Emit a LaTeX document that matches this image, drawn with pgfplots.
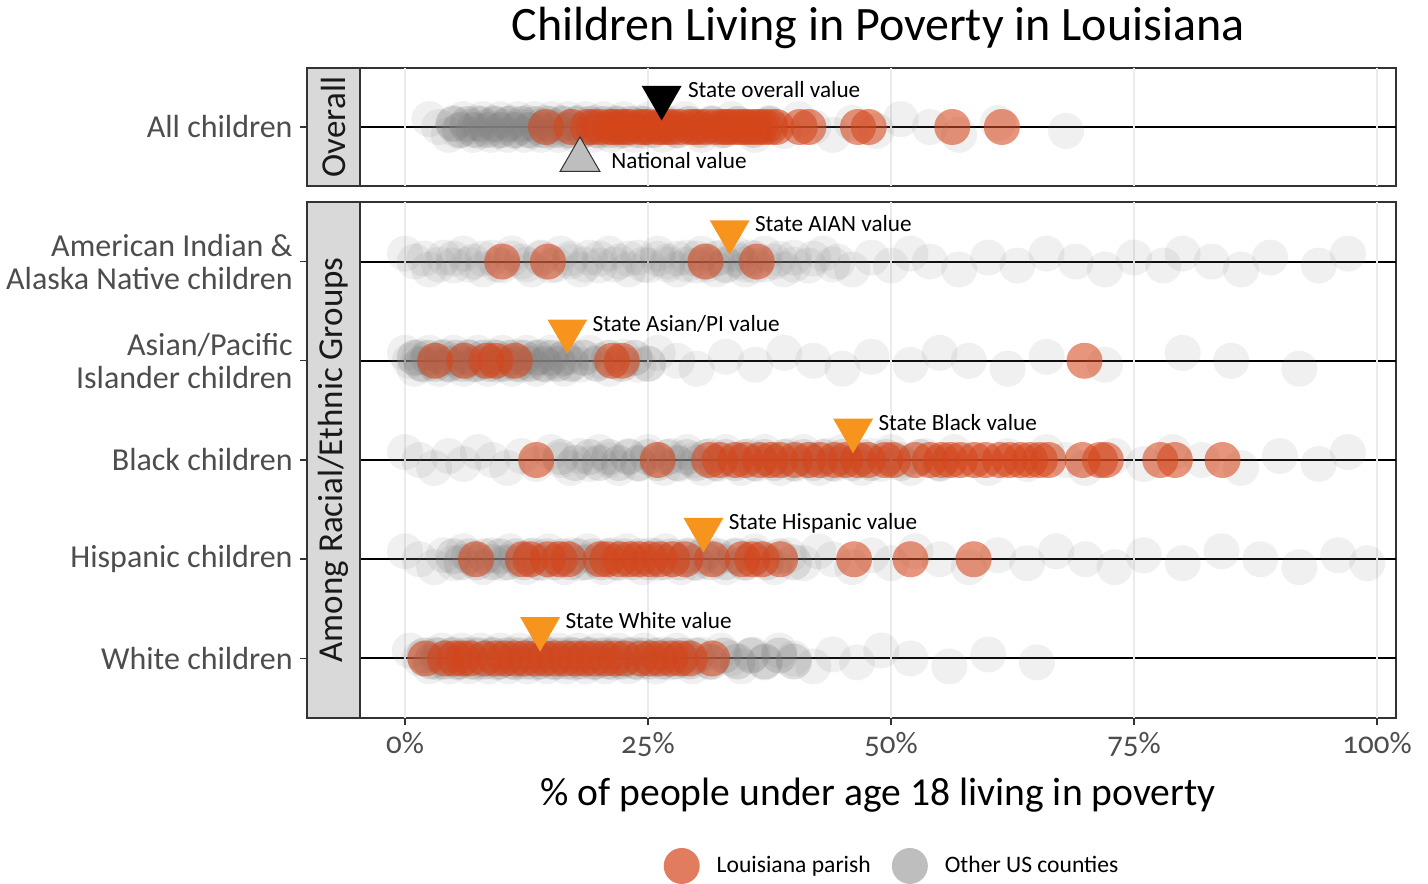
\documentclass[border=0pt]{standalone}
\usepackage{pgfplots}
\pgfplotsset{compat=1.18}
\usepackage{fontspec}
\setmainfont{Carlito}
\newfontfamily\tickfont{Carlito}[Numbers=OldStyle]
\definecolor{laorange}{HTML}{D5451A}
\definecolor{stateor}{HTML}{F7941D}
\definecolor{cloud}{HTML}{808080}
\definecolor{gridc}{HTML}{EBEBEB}
\definecolor{framec}{HTML}{333333}
\definecolor{stripc}{HTML}{D9D9D9}
\definecolor{tickc}{HTML}{4D4D4D}
\definecolor{natc}{HTML}{BEBEBE}
\pgfplotsset{
 panel/.style={scale only axis, width=518pt, xmin=-4.63, xmax=101.95,
   axis line style={framec, line width=0.7pt}, ytick=\empty},
 gray pts/.style={only marks, mark=*, mark size=9pt, color=cloud, mark options={fill=cloud, fill opacity=0.12, draw opacity=0}, forget plot},
 core pts/.style={only marks, mark=*, mark size=9pt, color=cloud, mark options={fill=cloud, fill opacity=0.2, draw opacity=0}, forget plot},
 dense pts/.style={only marks, mark=*, mark size=9pt, color=cloud, mark options={fill=cloud, fill opacity=0.26, draw opacity=0}, forget plot},
 or pts/.style={only marks, mark=*, mark size=9pt, color=laorange, mark options={fill=laorange, fill opacity=0.57, draw opacity=0}, forget plot},
 hl/.style={black, line width=1pt, forget plot},
 vg/.style={gridc, line width=1pt, forget plot},
 st tri/.style={only marks, mark=triangle*, mark size=11.5pt, color=stateor, mark options={rotate=180, fill=stateor, draw opacity=0}, forget plot},
}
\tikzset{lab/.style={anchor=base west, inner sep=0pt, font=\fontsize{11.6}{13}\selectfont, text=black}}
\begin{document}
\begin{tikzpicture}
\path[use as bounding box] (0,0) rectangle (714pt,441.5pt);
% ---------------- top panel ----------------
\begin{axis}[panel, at={(180pt,348.5pt)}, anchor=south west, height=59pt,
  ymin=0.4, ymax=1.6, xtick=\empty]
\addplot[hl] coordinates {(-4.63,1) (101.95,1)};
\addplot[vg] coordinates {(0,0.4) (0,1.6)};
\addplot[vg] coordinates {(25,0.4) (25,1.6)};
\addplot[vg] coordinates {(50,0.4) (50,1.6)};
\addplot[vg] coordinates {(75,0.4) (75,1.6)};
\addplot[vg] coordinates {(100,0.4) (100,1.6)};
\addplot[gray pts] coordinates {
(2.5,1.08) (3.5,1) (4.5,0.92) (5.0,1.04) (5.5,0.96)
(6.0,1.08) (6.5,1) (7.0,0.92) (7.3,1.04) (7.7,0.96)
(8.0,1.08) (8.4,1) (8.8,0.92) (9.1,1.04) (9.5,0.96)
(9.8,1.08) (10.2,1) (10.5,0.92) (10.9,1.04) (11.2,0.96)
(11.6,1.08) (11.9,1) (12.3,0.92) (12.6,1.04) (13.0,0.96)
(13.3,1.08) (13.7,1) (14.0,0.92) (14.4,1.04) (14.7,0.96)
(15.1,1.08) (15.4,1) (15.8,0.92) (16.1,1.04) (16.5,0.96)
(16.8,1.08) (17.2,1) (17.5,0.92) (17.9,1.04) (18.2,0.96)
(18.6,1.08) (18.9,1) (19.3,0.92) (19.6,1.04) (20.0,0.96)
(20.4,1.08) (20.8,1) (21.2,0.92) (21.6,1.04) (22.0,0.96)
(22.5,1.08) (23.0,1) (23.5,0.92) (24.0,1.04) (24.6,0.96)
(25.2,1.08) (25.8,1) (26.5,0.92) (27.2,1.04) (28.0,0.96)
(28.8,1.08) (29.6,1) (30.5,0.92) (31.5,1.04) (32.5,0.96)
(33.6,1.08) (34.8,1) (36.0,0.92) (37.5,1.04) (39.0,0.96)
(40.5,1.08) (42.0,1) (44.0,0.92) (46.0,1.04) (48.5,0.96)
(51.0,1.08) (54.0,1) (57.0,0.92) (61.0,1.04) (68.0,0.96)};
\addplot[dense pts] coordinates {
(5.0,1.03) (5.7,0.97) (6.4,1.03) (7.1,0.97) (7.8,1.03) (8.5,0.97) (9.2,1.03) (9.9,0.97)
(10.6,1.03) (11.3,0.97) (12.0,1.03) (12.7,0.97) (13.4,1.03) (14.1,0.97) (14.8,1.03)
(15.5,0.97) (16.2,1.03) (16.9,0.97) (17.6,1.03) (18.3,0.97) (19.0,1.03) (19.7,0.97)
(20.4,1.03) (21.1,0.97) (21.8,1.03) (22.5,0.97) (23.2,1.03) (23.9,0.97) (24.6,1.03)
(25.6,0.97) (26.8,1.03) (28.0,0.97) (29.2,1.03) (30.4,0.97) (31.6,1.03) (32.8,0.97)
(34.2,1.03) (35.8,0.97) (37.5,1.03)};
\addplot[or pts] coordinates {
(14.5,1) (17.1,1) (18.8,1) (19.4,1) (20.1,1) (21.1,1) (21.5,1) (22.1,1) (22.6,1)
(23.1,1) (24.1,1) (24.6,1) (25.0,1) (26.0,1) (26.5,1) (27.0,1) (27.5,1) (28.3,1)
(29.3,1) (29.8,1) (30.3,1) (31.0,1) (31.9,1) (32.6,1) (33.0,1) (33.4,1) (34.0,1)
(34.5,1) (35.0,1) (35.5,1) (36.0,1) (36.5,1) (37.0,1) (37.6,1) (38.2,1) (40.6,1)
(41.5,1) (46.6,1) (47.7,1) (56.3,1) (61.4,1)};
\addplot[only marks, mark=triangle*, mark size=11.5pt, color=black, mark options={rotate=180, fill=black, draw opacity=0}, forget plot] coordinates {(26.4,1.3)};
\addplot[only marks, mark=triangle*, mark size=11.5pt, color=framec, mark options={fill=natc, draw=framec, line width=0.5pt}, forget plot] coordinates {(18.0,0.665)};
\node[lab, xshift=13pt] at (axis cs:26.4,1.3) {State overall value};
\node[lab, xshift=15.5pt] at (axis cs:18.0,0.58) {National value};
\end{axis}
% ---------------- bottom panel ----------------
\begin{axis}[panel, at={(180pt,82.5pt)}, anchor=south west, height=258pt,
  ymin=0.4, ymax=5.6,
  xtick={0,25,50,75,100}, xticklabels={0\%,25\%,50\%,75\%,100\%},
  xtick pos=left, tick align=outside, major tick length=3.5pt,
  xtick style={framec, line width=0.7pt},
  xticklabel style={font=\tickfont\fontsize{15.5}{18}\selectfont, text=tickc},
  legend style={at={(0.5145,-0.2868)}, anchor=center, draw=none, fill=none,
    font=\fontsize{11.8}{13}\selectfont,
    /tikz/every odd column/.append style={column sep=6.5pt},
    /tikz/every even column/.append style={column sep=8.5pt}},
  legend columns=2, legend cell align=left]
\addplot[hl] coordinates {(-4.63,1) (101.95,1)};
\addplot[hl] coordinates {(-4.63,2) (101.95,2)};
\addplot[hl] coordinates {(-4.63,3) (101.95,3)};
\addplot[hl] coordinates {(-4.63,4) (101.95,4)};
\addplot[hl] coordinates {(-4.63,5) (101.95,5)};
\addplot[vg] coordinates {(0,0.4) (0,5.6)};
\addplot[vg] coordinates {(25,0.4) (25,5.6)};
\addplot[vg] coordinates {(50,0.4) (50,5.6)};
\addplot[vg] coordinates {(75,0.4) (75,5.6)};
\addplot[vg] coordinates {(100,0.4) (100,5.6)};
% AIAN
\addplot[gray pts] coordinates {
(0,5.08) (1,5) (2.5,4.92) (4,5.04) (5,4.96)
(6,5.08) (7,5) (8,4.92) (9,5.04) (10,4.96)
(11,5.08) (12,5) (13,4.92) (14,5.04) (15,4.96)
(16,5.08) (17,5) (18,4.92) (19,5.04) (20,4.96)
(21,5.08) (22,5) (23,4.92) (24,5.04) (25,4.96)
(26,5.08) (27,5) (28,4.92) (29,5.04) (30,4.96)
(30.5,5.08) (31,5) (32,4.92) (32.5,5.04) (33,4.96)
(34,5.08) (34.5,5) (35,4.92) (35.5,5.04) (36,4.96)
(37,5.08) (38,5) (39,4.92) (40,5.04) (41.5,4.96)
(43,5.08) (44.5,5) (46,4.92) (48,5.04) (50,4.96)
(52,5.08) (54,5) (57,4.92) (60,5.04) (63,4.96)
(66,5.08) (69,5) (72,4.92) (75,5.04) (78,4.96)
(80,5.08) (83,5) (86,4.92) (89,5.04) (94,4.96) (97,5.08)};
\addplot[gray pts] coordinates {
(2,5.03) (3.5,4.97) (5,5.03) (6.5,4.97) (8,5.03) (9.5,4.97) (11,5.03) (12.5,4.97)
(14,5.03) (15.5,4.97) (17,5.03) (18.5,4.97) (20,5.03) (21.5,4.97) (23,5.03) (24.5,4.97)
(26,5.03) (27,4.97) (28,5.03) (29,4.97) (30,5.03) (31,4.97) (32,5.03) (33,4.97)
(34,5.03) (35,4.97) (36,5.03) (37,4.97) (38.5,5.03) (40,4.97) (42,5.03) (44,4.97)};
% Asian/PI
\addplot[gray pts] coordinates {
(0,4.08) (0.5,4) (1,3.92) (1.5,4.04) (2,3.96)
(2.5,4.08) (3,4) (3.5,3.92) (4,4.04) (4.5,3.96)
(5,4.08) (5.5,4) (6,3.92) (6.5,4.04) (7,3.96)
(7.5,4.08) (8,4) (8.5,3.92) (9,4.04) (9.5,3.96)
(10,4.08) (10.5,4) (11,3.92) (11.5,4.04) (12,3.96)
(12.5,4.08) (13,4) (13.5,3.92) (14,4.04) (14.5,3.96)
(15,4.08) (15.7,4) (16.4,3.92) (17.1,4.04) (18,3.96)
(19,4.08) (20,4) (21,3.92) (22.5,4.04) (24,3.96)
(26,4.08) (28,4) (30,3.92) (33,4.04) (36,3.96)
(39,4.08) (42,4) (45,3.92) (48,4.04) (52,3.96)
(55,4.08) (58,4) (62,3.92) (66,4.04) (72,3.96)
(80,4.08) (85,4) (92,3.92)};
\addplot[dense pts] coordinates {
(1.0,4.03) (1.7,3.97) (2.4,4.03) (3.1,3.97) (3.8,4.03) (4.5,3.97) (5.2,4.03) (5.9,3.97)
(6.6,4.03) (7.3,3.97) (8.0,4.03) (8.7,3.97) (9.4,4.03) (10.1,3.97) (10.8,4.03) (11.5,3.97)
(12.2,4.03) (12.9,3.97) (13.6,4.03) (14.3,3.97) (15.0,4.03) (15.7,3.97) (16.4,4.03)
(17.1,3.97) (18.4,4.03) (19.7,3.97) (21.0,4.03) (22.3,3.97) (23.6,4.03) (25.0,3.97)};
% Black
\addplot[gray pts] coordinates {
(0,3.08) (1.5,3) (3,2.92) (4.5,3.04) (6,2.96)
(7.5,3.08) (9,3) (10.5,2.92) (12,3.04) (13.5,2.96)
(15,3.08) (16,3) (17,2.92) (18,3.04) (19,2.96)
(20,3.08) (21,3) (22,2.92) (23,3.04) (24,2.96)
(25,3.08) (25.8,3) (26.6,2.92) (27.4,3.04) (28.2,2.96)
(29,3.08) (29.8,3) (30.6,2.92) (31.4,3.04) (32.2,2.96)
(33,3.08) (33.8,3) (34.6,2.92) (35.4,3.04) (36.2,2.96)
(37,3.08) (37.8,3) (38.6,2.92) (39.4,3.04) (40.2,2.96)
(41,3.08) (41.8,3) (42.6,2.92) (43.4,3.04) (44.2,2.96)
(45,3.08) (46,3) (47,2.92) (48,3.04) (49,2.96)
(50,3.08) (51,3) (52,2.92) (53.5,3.04) (55,2.96)
(56.5,3.08) (58,3) (60,2.92) (62,3.04) (64,2.96)
(66,3.08) (68,3) (70,2.92) (73,3.04) (76,2.96)
(79,3.08) (82,3) (86,2.92) (90,3.04) (94,2.96) (97,3.08)};
\addplot[core pts] coordinates {
(16,3.03) (17.5,2.97) (19,3.03) (20,2.97) (21,3.03) (22,2.97) (23,3.03) (24,2.97)
(25,3.03) (26,2.97) (27,3.03) (28,2.97) (29,3.03) (30,2.97) (31,3.03) (32,2.97)
(33,3.03) (34,2.97) (35,3.03) (36,2.97) (37,3.03) (38,2.97) (39,3.03) (40,2.97)
(41,3.03) (42,2.97) (43,3.03) (44,2.97) (45,3.03) (46,2.97) (47,3.03) (48,2.97)
(49.5,3.03) (51,2.97) (53,3.03) (55,2.97)};
% Hispanic
\addplot[gray pts] coordinates {
(0,2.08) (1.5,2) (3,1.92) (4,2.04) (5,1.96)
(6,2.08) (7,2) (8,1.92) (9,2.04) (10,1.96)
(10.8,2.08) (11.6,2) (12.4,1.92) (13.2,2.04) (14,1.96)
(14.8,2.08) (15.6,2) (16.4,1.92) (17.2,2.04) (18,1.96)
(18.8,2.08) (19.6,2) (20.4,1.92) (21.2,2.04) (22,1.96)
(22.8,2.08) (23.6,2) (24.4,1.92) (25.2,2.04) (26,1.96)
(26.8,2.08) (27.6,2) (28.4,1.92) (29.2,2.04) (30,1.96)
(31,2.08) (32,2) (33,1.92) (34,2.04) (35,1.96)
(36,2.08) (37,2) (38,1.92) (39.5,2.04) (41,1.96)
(42.5,2.08) (44,2) (46,1.92) (48,2.04) (50,1.96)
(52.5,2.08) (55,2) (58,1.92) (61,2.04) (64,1.96)
(67,2.08) (70,2) (73,1.92) (76,2.04) (80,1.96)
(84,2.08) (88,2) (92,1.92) (96,2.04) (99,1.96)};
\addplot[core pts] coordinates {
(5,2.03) (5.8,1.97) (6.6,2.03) (7.4,1.97) (8.2,2.03) (9,1.97) (9.8,2.03) (10.6,1.97)
(11.4,2.03) (12.2,1.97) (13,2.03) (13.8,1.97) (14.6,2.03) (15.4,1.97) (16.2,2.03)
(17,1.97) (17.8,2.03) (18.6,1.97) (19.4,2.03) (20.2,1.97) (21,2.03) (21.8,1.97)
(22.6,2.03) (23.4,1.97) (24.2,2.03) (25,1.97) (25.8,2.03) (26.6,1.97) (27.4,2.03)
(28.2,1.97) (29,2.03) (29.8,1.97) (30.6,2.03) (31.4,1.97) (32.2,2.03) (33,1.97)
(34,2.03) (35,1.97) (36,2.03) (37.2,1.97) (38.5,2.03) (40,1.97)};
% White
\addplot[gray pts] coordinates {
(0.5,1.08) (1.5,1) (2.5,0.92) (3.0,1.04) (3.4,0.96)
(3.8,1.08) (4.2,1) (4.6,0.92) (5.0,1.04) (5.4,0.96)
(5.8,1.08) (6.2,1) (6.6,0.92) (7.0,1.04) (7.4,0.96)
(7.8,1.08) (8.2,1) (8.6,0.92) (9.0,1.04) (9.4,0.96)
(9.8,1.08) (10.2,1) (10.6,0.92) (11.0,1.04) (11.4,0.96)
(11.8,1.08) (12.2,1) (12.6,0.92) (13.0,1.04) (13.4,0.96)
(13.8,1.08) (14.2,1) (14.6,0.92) (15.0,1.04) (15.4,0.96)
(15.8,1.08) (16.2,1) (16.6,0.92) (17.0,1.04) (17.4,0.96)
(17.8,1.08) (18.2,1) (18.6,0.92) (19.0,1.04) (19.4,0.96)
(19.8,1.08) (20.2,1) (20.6,0.92) (21.0,1.04) (21.5,0.96)
(22.0,1.08) (22.5,1) (23.0,0.92) (23.5,1.04) (24.0,0.96)
(24.6,1.08) (25.2,1) (25.8,0.92) (26.5,1.04) (27.2,0.96)
(28.0,1.08) (28.8,1) (29.6,0.92) (30.5,1.04) (31.5,0.96)
(32.5,1.08) (33.5,1) (34.6,0.92) (35.8,1.04) (37.0,0.96)
(38.5,1.08) (40.0,1) (42.0,0.92) (44.0,1.04) (46.5,0.96)
(49.0,1.08) (52.0,1) (56.0,0.92) (60.0,1.04) (65.0,0.96)};
\addplot[dense pts] coordinates {
(2.0,1.03) (2.7,0.97) (3.4,1.03) (4.1,0.97) (4.8,1.03) (5.5,0.97) (6.2,1.03) (6.9,0.97)
(7.6,1.03) (8.3,0.97) (9.0,1.03) (9.7,0.97) (10.4,1.03) (11.1,0.97) (11.8,1.03)
(12.5,0.97) (13.2,1.03) (13.9,0.97) (14.6,1.03) (15.3,0.97) (16.0,1.03) (16.7,0.97)
(17.4,1.03) (18.1,0.97) (18.8,1.03) (19.5,0.97) (20.2,1.03) (20.9,0.97) (21.6,1.03)
(22.3,0.97) (23.0,1.03) (23.7,0.97) (24.4,1.03) (25.1,0.97) (25.8,1.03) (26.5,0.97)
(27.2,1.03) (27.9,0.97) (28.6,1.03) (29.3,0.97) (30.0,1.03) (31.4,0.97) (32.8,1.03)
(34.2,0.97) (35.6,1.03) (37.0,0.97) (38.5,1.03) (40.0,0.97)};
% Louisiana parishes
\addplot[or pts] coordinates {(10.0,5) (14.7,5) (30.9,5) (36.2,5)};
\addplot[or pts] coordinates {(3.1,4) (6.1,4) (8.4,4) (9.3,4) (11.3,4) (21.3,4) (22.3,4) (69.9,4)};
\addplot[or pts] coordinates {
(13.5,3) (26.0,3) (31.3,3) (32.4,3) (34.0,3) (35.0,3) (36.5,3) (37.6,3) (38.6,3)
(40.1,3) (41.5,3) (42.7,3) (44.2,3) (45.3,3) (46.6,3) (47.6,3) (49.4,3) (50.2,3)
(52.5,3) (54.0,3) (55.2,3) (56.1,3) (57.1,3) (58.6,3) (59.7,3) (61.2,3) (62.2,3)
(63.3,3) (64.3,3) (65.3,3) (66.2,3) (69.7,3) (71.5,3) (72.1,3) (77.7,3) (79.2,3) (84.1,3)};
\addplot[or pts] coordinates {
(7.3,2) (12.1,2) (12.9,2) (14.7,2) (15.9,2) (16.8,2) (20.1,2) (20.8,2) (22.1,2)
(23.1,2) (24.1,2) (25.2,2) (26.2,2) (27.5,2) (28.8,2) (31.6,2) (34.7,2) (35.7,2)
(36.7,2) (38.6,2) (46.2,2) (52.0,2) (58.5,2)};
\addplot[or pts] coordinates {
(2.1,1) (4.1,1) (5.1,1) (5.9,1) (6.7,1) (8.2,1) (9.3,1) (10.3,1) (11.3,1) (12.3,1)
(13.4,1) (14.4,1) (15.4,1) (16.5,1) (17.5,1) (18.5,1) (19.5,1) (20.6,1) (21.6,1)
(22.6,1) (24.2,1) (25.2,1) (26.2,1) (27.3,1) (28.3,1) (29.3,1) (31.6,1)};
% state values
\addplot[st tri] coordinates {(33.4,5.3) (16.7,4.3) (46.1,3.3) (30.7,2.3) (13.9,1.3)};
\node[lab, xshift=12.5pt] at (axis cs:33.4,5.3) {State AIAN value};
\node[lab, xshift=12.5pt] at (axis cs:16.7,4.3) {State Asian/PI value};
\node[lab, xshift=12.5pt] at (axis cs:46.1,3.3) {State Black value};
\node[lab, xshift=12.5pt] at (axis cs:30.7,2.3) {State Hispanic value};
\node[lab, xshift=12.5pt] at (axis cs:13.9,1.3) {State White value};
% legend
\addlegendimage{only marks, mark=*, mark size=9pt, color=laorange, mark options={fill=laorange, fill opacity=0.7, draw opacity=0}}
\addlegendentry{Louisiana parish}
\addlegendimage{only marks, mark=*, mark size=9pt, color=natc, mark options={fill=natc, draw opacity=0}}
\addlegendentry{Other US counties}
\end{axis}
% strips
\fill[stripc] (153.5pt,348.5pt) rectangle (180pt,407.5pt);
\draw[framec, line width=0.7pt] (153.5pt,348.5pt) rectangle (180pt,407.5pt);
\fill[stripc] (153.5pt,82.5pt) rectangle (180pt,340.5pt);
\draw[framec, line width=0.7pt] (153.5pt,82.5pt) rectangle (180pt,340.5pt);
\node[rotate=90, font=\fontsize{17.5}{20}\selectfont, text=black!90] at (166.75pt,378pt) {Overall};
\node[rotate=90, font=\fontsize{17.5}{20}\selectfont, text=black!90] at (166.75pt,211.5pt) {Among Racial/Ethnic Groups};
% y tick labels and ticks
\foreach \yy in {378,310.7,261.1,211.5,161.9,112.3}{
  \draw[framec, line width=0.7pt] (150pt,\yy pt) -- (153.5pt,\yy pt);
}
\begin{scope}[every node/.style={anchor=east, inner sep=0pt, font=\fontsize{16}{16.5}\selectfont, text=tickc, align=right}]
\node at (146.5pt,378pt) {All children};
\node at (146.5pt,310.7pt) {American Indian \&\\Alaska Native children};
\node at (146.5pt,261.1pt) {Asian/Pacific\\Islander children};
\node at (146.5pt,211.5pt) {Black children};
\node at (146.5pt,161.9pt) {Hispanic children};
\node at (146.5pt,112.3pt) {White children};
\end{scope}
% titles
\node[font=\fontsize{24}{28}\selectfont] at (439pt,427.5pt) {Children Living in Poverty in Louisiana};
\node[font=\fontsize{19.8}{23}\selectfont] at (439pt,44pt) {\% of people under age 18 living in poverty};
\end{tikzpicture}
\end{document}
